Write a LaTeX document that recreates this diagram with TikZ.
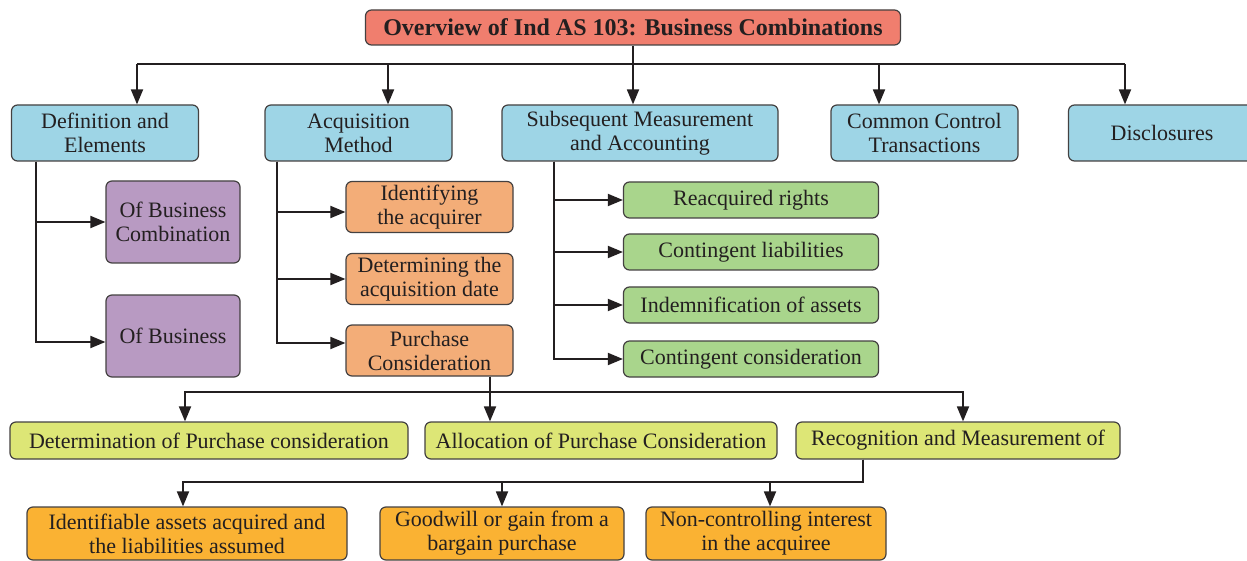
\documentclass[tikz,border=0pt]{standalone}
\usepackage{fontspec}
\setmainfont{Liberation Serif}
\usetikzlibrary{arrows.meta}
\definecolor{ctitle}{HTML}{F07E6E}
\definecolor{cblue}{HTML}{9ED5E6}
\definecolor{cpurple}{HTML}{B89AC2}
\definecolor{clorange}{HTML}{F3AD78}
\definecolor{cgreen}{HTML}{A9D58C}
\definecolor{cyellow}{HTML}{DDE676}
\definecolor{corange}{HTML}{FAB233}
\definecolor{cline}{HTML}{231F20}
\tikzset{
  box/.style={draw=cline!85, line width=1.2pt, rounded corners=6pt, align=center,
    inner sep=0pt, font=\fontsize{22}{24}\selectfont, text=cline},
  arr/.style={draw=cline, line width=1.8pt, -{Triangle[length=15pt,width=12pt]}},
  ln/.style={draw=cline, line width=1.8pt},
}
\begin{document}
\begin{tikzpicture}[x=1pt,y=-1pt]
\useasboundingbox[fill=white] (0,0) rectangle (1247,561);
% title
\node[box, fill=ctitle, minimum width=535, minimum height=35, font=\fontsize{24}{26}\selectfont\bfseries] (title) at (633,27.5) {Overview of Ind AS 103: Business Combinations};
% level 1
\node[box, fill=cblue, minimum width=187, minimum height=56] (def) at (105,133) {Definition and\\Elements};
\node[box, fill=cblue, minimum width=187, minimum height=56] (acq) at (358.5,133) {Acquisition\\Method};
\node[box, fill=cblue, minimum width=276, minimum height=56] (sub) at (640,133) {Subsequent Measurement\\and Accounting};
\node[box, fill=cblue, minimum width=187, minimum height=56] (ccm) at (924.5,133) {Common Control\\Transactions};
\node[box, fill=cblue, minimum width=187, minimum height=56] (dis) at (1162,133) {Disclosures};
% purple
\node[box, fill=cpurple, minimum width=134, minimum height=82] (p1) at (173,222) {Of Business\\Combination};
\node[box, fill=cpurple, minimum width=134, minimum height=82] (p2) at (173,336) {Of Business};
% light orange
\node[box, fill=clorange, minimum width=167, minimum height=51] (o1) at (429.5,207) {Identifying\\the acquirer};
\node[box, fill=clorange, minimum width=167, minimum height=51] (o2) at (429.5,279) {Determining the\\acquisition date};
\node[box, fill=clorange, minimum width=167, minimum height=51] (o3) at (429.5,350.5) {Purchase\\Consideration};
% green
\node[box, fill=cgreen, minimum width=255, minimum height=36] (g1) at (751,200) {Reacquired rights};
\node[box, fill=cgreen, minimum width=255, minimum height=36] (g2) at (751,252) {Contingent liabilities};
\node[box, fill=cgreen, minimum width=255, minimum height=36] (g3) at (751,305) {Indemnification of assets};
\node[box, fill=cgreen, minimum width=255, minimum height=36] (g4) at (751,359) {Contingent consideration};
% yellow
\node[box, fill=cyellow, minimum width=398, minimum height=37] (y1) at (209,440.5) {Determination of Purchase consideration};
\node[box, fill=cyellow, minimum width=352, minimum height=37] (y2) at (601,440.5) {Allocation of Purchase Consideration};
\node[box, fill=cyellow, minimum width=324, minimum height=37] (y3) at (958,440.5) {Recognition and Measurement of};
% orange
\node[box, fill=corange, minimum width=320, minimum height=53] (q1) at (187,533.5) {Identifiable assets acquired and\\the liabilities assumed};
\node[box, fill=corange, minimum width=244, minimum height=53] (q2) at (502,533.5) {Goodwill or gain from a\\bargain purchase};
\node[box, fill=corange, minimum width=240, minimum height=53] (q3) at (766,533.5) {Non-controlling interest\\in the acquiree};
% connectors from title
\coordinate (lbar) at ([xshift=32,yshift=40]def.north);
\coordinate (rbar) at ([xshift=-37,yshift=40]dis.north);
\draw[ln] (lbar) -- (rbar);
\draw[arr] (title.south) -- (sub.north -| title.south);
\draw[arr] (lbar) -- ([xshift=32]def.north);
\draw[arr] ([xshift=29.5,yshift=40]acq.north) -- ([xshift=29.5]acq.north);
\draw[arr] ([xshift=-45.5,yshift=40]ccm.north) -- ([xshift=-45.5]ccm.north);
\draw[arr] (rbar) -- ([xshift=-37]dis.north);
% definition branches
\draw[arr] ([xshift=-69]def.south) |- (p1.west);
\draw[arr] ([xshift=-69]def.south) |- ([yshift=-6]p2.west);
% acquisition branches
\draw[arr] ([xshift=-81.5]acq.south) |- ([yshift=-5]o1.west);
\draw[arr] ([xshift=-81.5]acq.south) |- (o2.west);
\draw[arr] ([xshift=-81.5]acq.south) |- ([yshift=7.5]o3.west);
% subsequent branches
\draw[arr] ([xshift=-86]sub.south) |- (g1.west);
\draw[arr] ([xshift=-86]sub.south) |- (g2.west);
\draw[arr] ([xshift=-86]sub.south) |- (g3.west);
\draw[arr] ([xshift=-86]sub.south) |- (g4.west);
% purchase consideration
\coordinate (pc) at ([xshift=60.5]o3.south);
\draw[arr] (pc) |- ++(0,15) -| ([xshift=-24]y1.north);
\draw[arr] (pc) -- (pc |- y2.north);
\draw[arr] (pc) |- ++(0,15) -| ([xshift=5]y3.north);
% recognition
\coordinate (rm) at ([xshift=-95]y3.south);
\draw[arr] (rm) |- ++(0,22) -| ([xshift=-4]q1.north);
\draw[arr] (rm) |- ++(0,22) -| (q2.north);
\draw[arr] (rm) |- ++(0,22) -| ([xshift=4]q3.north);
\end{tikzpicture}
\end{document}
